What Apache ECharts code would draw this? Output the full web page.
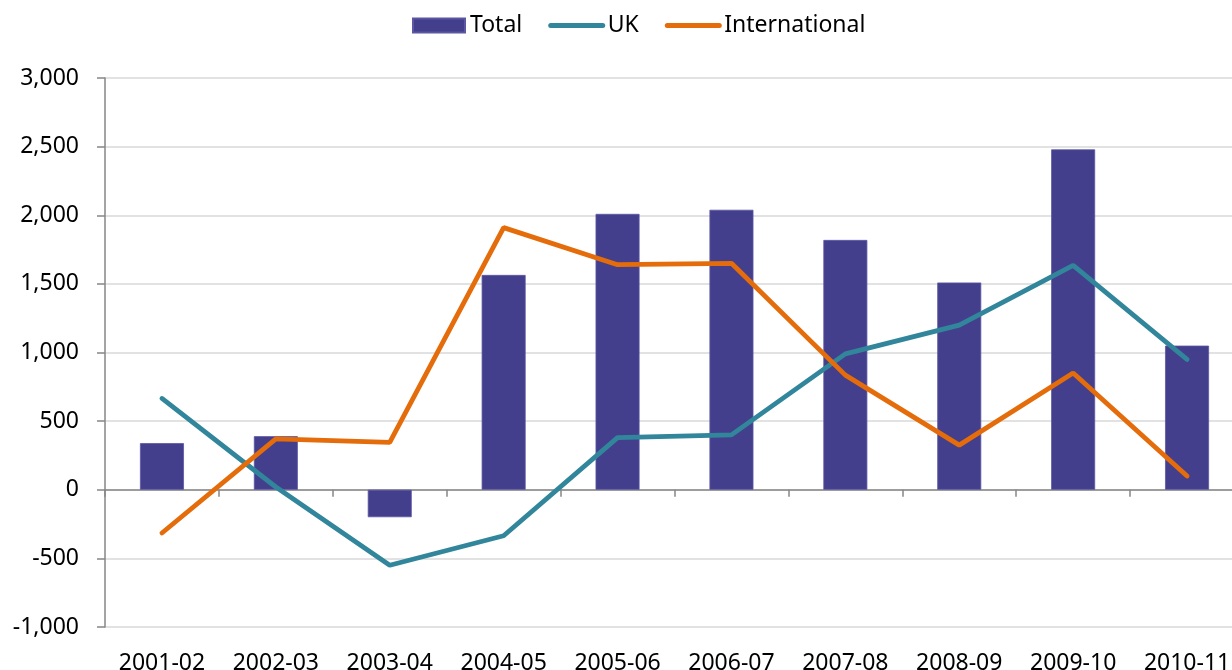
<!DOCTYPE html>
<html>
<head>
<meta charset="utf-8">
<title>Total, UK and International</title>
<script src="https://cdn.jsdelivr.net/npm/echarts@6/dist/echarts.min.js"></script>
<style>
  html, body { margin: 0; padding: 0; background: #fff; }
  #chart { width: 1232px; height: 670px; }
</style>
</head>
<body>
<div id="chart"></div>
<script>
// Financial years shown on the category axis
const years = ['2001-02', '2002-03', '2003-04', '2004-05', '2005-06',
               '2006-07', '2007-08', '2008-09', '2009-10', '2010-11'];

// Series values
const totalValues = [340, 390, -200, 1565, 2010, 2040, 1820, 1510, 2480, 1050];
const ukValues = [665, 20, -550, -335, 380, 400, 990, 1200, 1635, 950];
const internationalValues = [-315, 370, 345, 1910, 1640, 1650, 835, 325, 850, 100];

// Value axis range
const yMin = -1000;
const yMax = 3000;
const yStep = 500;

const FONT = 'Noto Sans';
const AXIS_GREY = '#868686';
const UK_COLOR = '#31869B';
const INTL_COLOR = '#E46C0A';

const chart = echarts.init(document.getElementById('chart'), null, { renderer: 'canvas' });

// Line legend entries: plain thick stroke, no marker
const lineLegendItem = (name, color) => ({
  name,
  itemStyle: { color: 'transparent', borderWidth: 0, opacity: 0 },
  lineStyle: { color, width: 5, cap: 'round' }
});

chart.setOption({
  animation: false,
  backgroundColor: '#ffffff',
  textStyle: { fontFamily: FONT },
  legend: {
    left: 407,
    top: 9,
    itemWidth: 52,
    itemHeight: 14,
    itemGap: 26,
    textStyle: { fontFamily: FONT, fontSize: 23, color: '#000' },
    data: [
      { name: 'Total', icon: 'rect' },
      lineLegendItem('UK', UK_COLOR),
      lineLegendItem('International', INTL_COLOR)
    ]
  },
  grid: {
    left: 105,
    right: -12,
    top: 78,
    bottom: 43,
    containLabel: false,
    outerBoundsMode: 'none'
  },
  xAxis: [
    {
      // category labels along the bottom edge
      type: 'category',
      data: years,
      position: 'bottom',
      boundaryGap: true,
      axisLine: { show: false, onZero: false },
      axisTick: { show: false },
      axisLabel: {
        margin: 25,
        interval: 0,
        fontFamily: FONT,
        fontSize: 23,
        color: '#000'
      },
      splitLine: { show: false }
    },
    {
      // axis line and ticks through zero
      type: 'category',
      data: years,
      position: 'top',
      boundaryGap: true,
      axisLine: { show: true, onZero: true, lineStyle: { color: AXIS_GREY, width: 1.5 } },
      axisTick: { show: true, inside: true, length: 7, alignWithLabel: false, lineStyle: { color: AXIS_GREY, width: 1.5 } },
      axisLabel: { show: false },
      splitLine: { show: false }
    }
  ],
  yAxis: {
    type: 'value',
    min: yMin,
    max: yMax,
    interval: yStep,
    axisLine: { show: true, lineStyle: { color: AXIS_GREY, width: 1.5 } },
    axisTick: { show: true, length: 8, lineStyle: { color: AXIS_GREY, width: 1.5 } },
    axisLabel: {
      margin: 26,
      fontFamily: FONT,
      fontSize: 23,
      color: '#000',
      formatter: v => v.toLocaleString('en-US')
    },
    splitLine: { show: true, lineStyle: { color: '#D9D9D9', width: 1.5 } }
  },
  series: [
    {
      name: 'Total',
      type: 'bar',
      xAxisIndex: 0,
      data: totalValues,
      barWidth: '38.6%',
      itemStyle: { color: '#433F8C', borderColor: '#5A57A3', borderWidth: 0.8 },
      z: 2
    },
    {
      name: 'UK',
      type: 'line',
      xAxisIndex: 0,
      data: ukValues,
      symbol: 'none',
      showSymbol: false,
      lineStyle: { color: UK_COLOR, width: 4.8, cap: 'round' },
      itemStyle: { color: UK_COLOR },
      z: 3
    },
    {
      name: 'International',
      type: 'line',
      xAxisIndex: 0,
      data: internationalValues,
      symbol: 'none',
      showSymbol: false,
      lineStyle: { color: INTL_COLOR, width: 4.8, cap: 'round' },
      itemStyle: { color: INTL_COLOR },
      z: 4
    }
  ]
});
</script>
</body>
</html>
